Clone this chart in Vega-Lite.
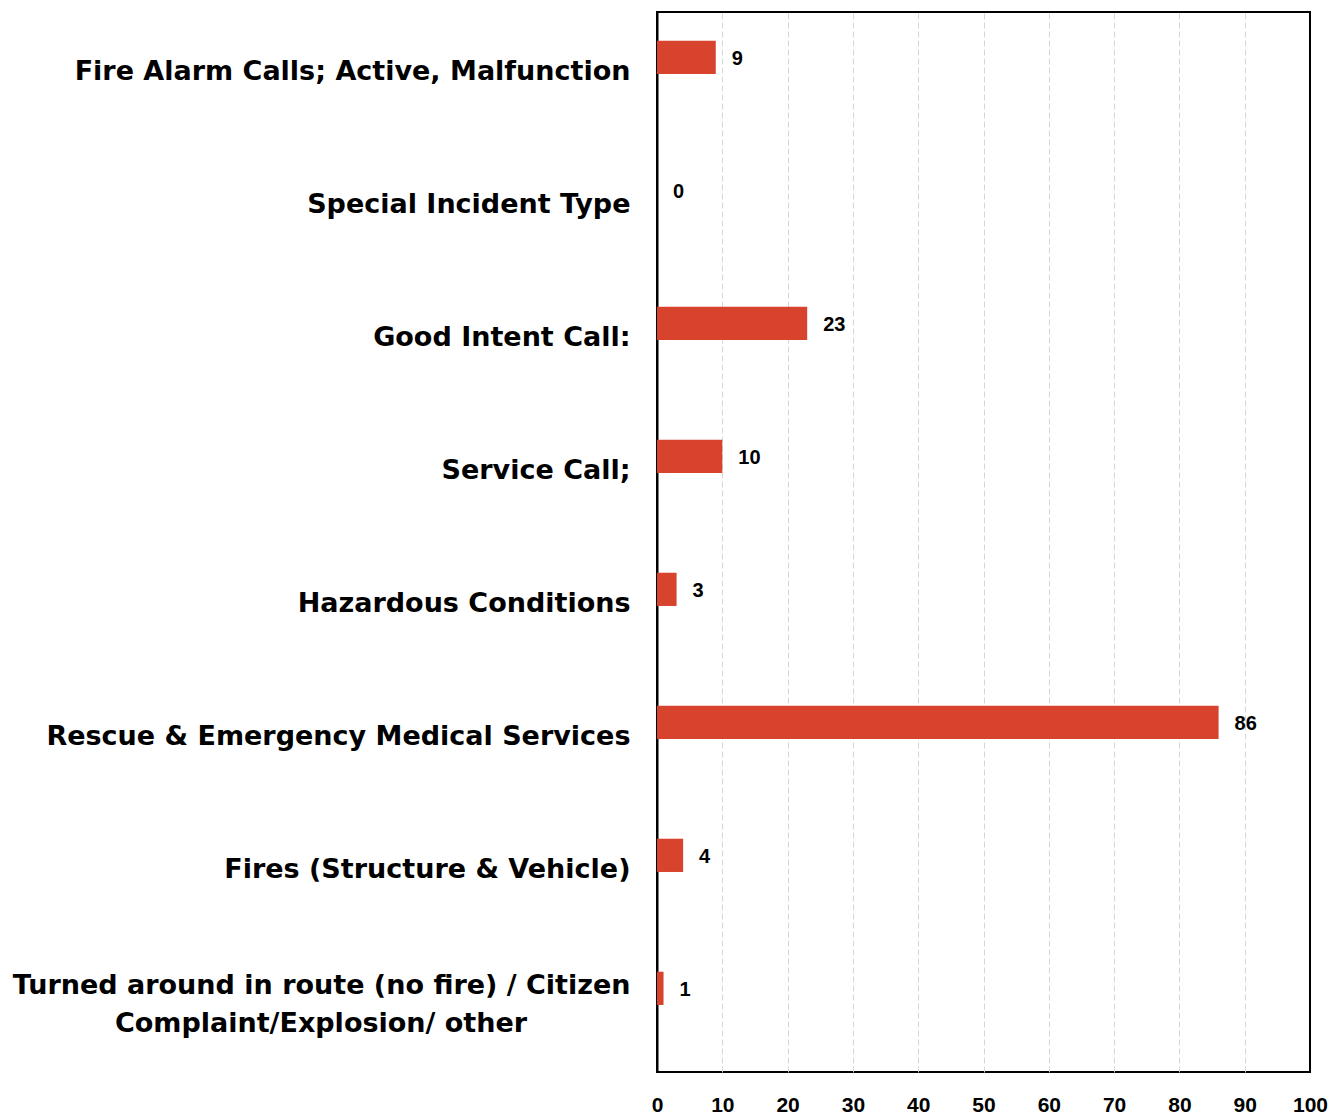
{
  "$schema": "https://vega.github.io/schema/vega-lite/v6.json",
  "autosize": "none",
  "width": 653,
  "height": 1060,
  "padding": {"left": 657, "top": 12, "right": 33, "bottom": 44},
  "background": "white",
  "config": {"view": {"stroke": "black", "strokeWidth": 2}},
  "data": {"values": [
    {"category": "Fire Alarm Calls; Active, Malfunction", "count": 9},
    {"category": "Special Incident Type", "count": 0},
    {"category": "Good Intent Call:", "count": 23},
    {"category": "Service Call;", "count": 10},
    {"category": "Hazardous Conditions", "count": 3},
    {"category": "Rescue & Emergency Medical Services", "count": 86},
    {"category": "Fires (Structure & Vehicle)", "count": 4},
    {"category": "Turned around in route (no fire) / Citizen Complaint/Explosion/ other", "count": 1}
  ]},
  "encoding": {
    "y": {
      "field": "category", "type": "nominal", "sort": null, "title": null,
      "scale": {"paddingInner": 0.75, "paddingOuter": 0.36, "align": 0.3},
      "axis": {
        "labelFont": "DejaVu Sans", "labelFontWeight": "bold", "labelFontSize": 27,
        "labelColor": "black", "labelPadding": 27, "labelLimit": 700,
        "labelOffset": {"condition": {"test": "length(datum.value) > 60", "value": -2}, "value": 15},
        "ticks": false, "domain": true, "domainColor": "black", "domainWidth": 2,
        "labelExpr": "datum.value == 'Turned around in route (no fire) / Citizen Complaint/Explosion/ other' ? ['Turned around in route (no fire) / Citizen', 'Complaint/Explosion/ other\u00a0\u00a0\u00a0\u00a0\u00a0\u00a0\u00a0\u00a0\u00a0\u00a0\u00a0\u200b'] : datum.value",
        "labelLineHeight": 38
      }
    }
  },
  "layer": [
    {
      "mark": {"type": "bar", "color": "#d8432e"},
      "encoding": {
        "x": {
          "field": "count", "type": "quantitative", "title": null,
          "scale": {"domain": [0, 100], "nice": false},
          "axis": {
            "values": [0, 10, 20, 30, 40, 50, 60, 70, 80, 90, 100],
            "labelFont": "Liberation Sans", "labelFontWeight": "bold", "labelFontSize": 21,
            "labelColor": "black", "labelPadding": 22, "labelFlush": false, "ticks": false, "domain": false,
            "grid": true, "gridColor": "#d6d6d6", "gridWidth": 1, "gridDash": [6, 3],
            "gridOpacity": {"condition": {"test": "datum.value == 0 || datum.value == 100", "value": 0}, "value": 1}
          }
        }
      }
    },
    {
      "mark": {"type": "text", "align": "left", "dx": 16, "dy": 2, "font": "Liberation Sans", "fontWeight": "bold", "fontSize": 20, "color": "black"},
      "encoding": {
        "x": {"field": "count", "type": "quantitative"},
        "text": {"field": "count", "type": "quantitative"}
      }
    }
  ]
}
